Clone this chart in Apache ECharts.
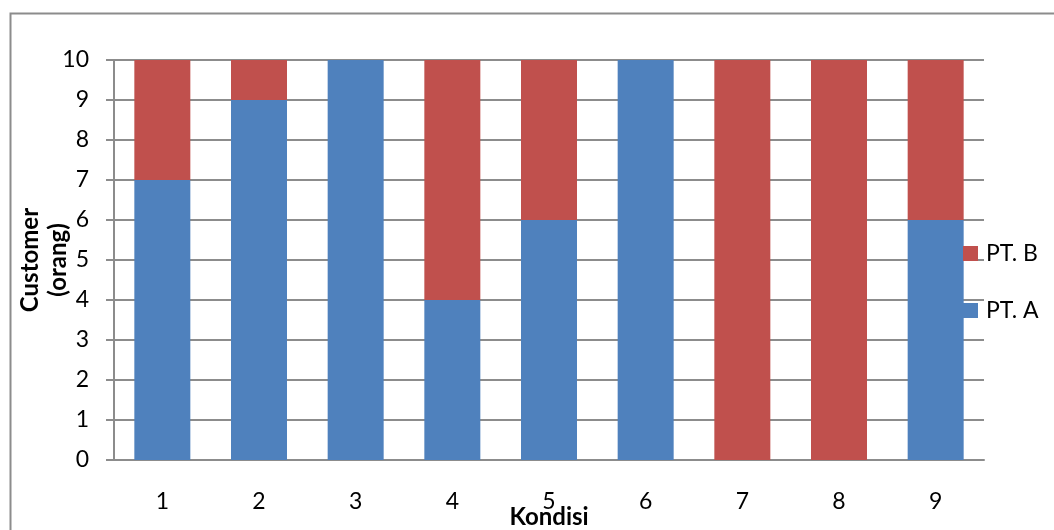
<!DOCTYPE html>
<html>
<head>
<meta charset="utf-8">
<script src="https://cdn.jsdelivr.net/npm/echarts@6/dist/echarts.min.js"></script>
<style>
  html, body { margin: 0; padding: 0; background: #fff; }
  #chart { width: 1054px; height: 530px; }
</style>
</head>
<body>
<div id="chart"></div>
<script>
// Customers per condition, stacked by company
const kondisi = ['1', '2', '3', '4', '5', '6', '7', '8', '9'];
const ptA = [7, 9, 10, 4, 6, 10, 0, 0, 6];
const ptB = [3, 1, 0, 6, 4, 0, 10, 10, 4];
const yTicks = { min: 0, max: 10, step: 1 };

const FONT = 'Lato';
const GRID_COLOR = '#8c8c8c';

const chart = echarts.init(document.getElementById('chart'));

chart.setOption({
  animation: false,
  backgroundColor: '#fff',
  textStyle: { fontFamily: FONT, color: '#000' },
  graphic: [{
    type: 'rect',
    left: 8, top: 11,
    shape: { width: 1100, height: 600 },
    style: { fill: 'none', stroke: '#8c8c8c', lineWidth: 2 },
    silent: true
  }],
  grid: { left: 114, right: 70, top: 60, bottom: 70, containLabel: false, outerBoundsMode: 'none' },
  legend: {
    orient: 'vertical',
    left: 963, top: 242,
    padding: 0,
    itemWidth: 15, itemHeight: 15,
    itemGap: 34,
    icon: 'rect',
    data: ['PT. B', 'PT. A'],
    textStyle: { fontFamily: FONT, fontSize: 23, color: '#000', lineHeight: 15, padding: [0, 0, 0, 3] }
  },
  xAxis: {
    type: 'category',
    data: kondisi,
    name: 'Kondisi',
    nameLocation: 'middle',
    nameGap: 45,
    nameMoveOverlap: false,
    nameTextStyle: { fontFamily: FONT, fontWeight: 'bold', fontSize: 24, color: '#000' },
    axisLine: { show: true, lineStyle: { color: GRID_COLOR, width: 2 } },
    axisTick: { show: false },
    axisLabel: { fontFamily: FONT, fontSize: 23, color: '#000', margin: 30 }
  },
  yAxis: {
    type: 'value',
    min: yTicks.min, max: yTicks.max, interval: yTicks.step,
    name: 'Customer\n(orang)',
    nameLocation: 'middle',
    nameGap: 42,
    nameMoveOverlap: false,
    nameTextStyle: { fontFamily: FONT, fontWeight: 'bold', fontSize: 24, color: '#000', lineHeight: 28 },
    axisLine: { show: true, lineStyle: { color: GRID_COLOR, width: 2 } },
    axisTick: { show: true, inside: false, length: 8, lineStyle: { color: GRID_COLOR, width: 2 } },
    axisLabel: { fontFamily: FONT, fontSize: 23, color: '#000', margin: 25 },
    splitLine: { show: true, lineStyle: { color: GRID_COLOR, width: 2 } }
  },
  series: [
    {
      name: 'PT. A', type: 'bar', stack: 'total', data: ptA,
      barWidth: 56, itemStyle: { color: '#4F81BD' }
    },
    {
      name: 'PT. B', type: 'bar', stack: 'total', data: ptB,
      barWidth: 56, itemStyle: { color: '#C0504D' }
    }
  ]
});
</script>
</body>
</html>
